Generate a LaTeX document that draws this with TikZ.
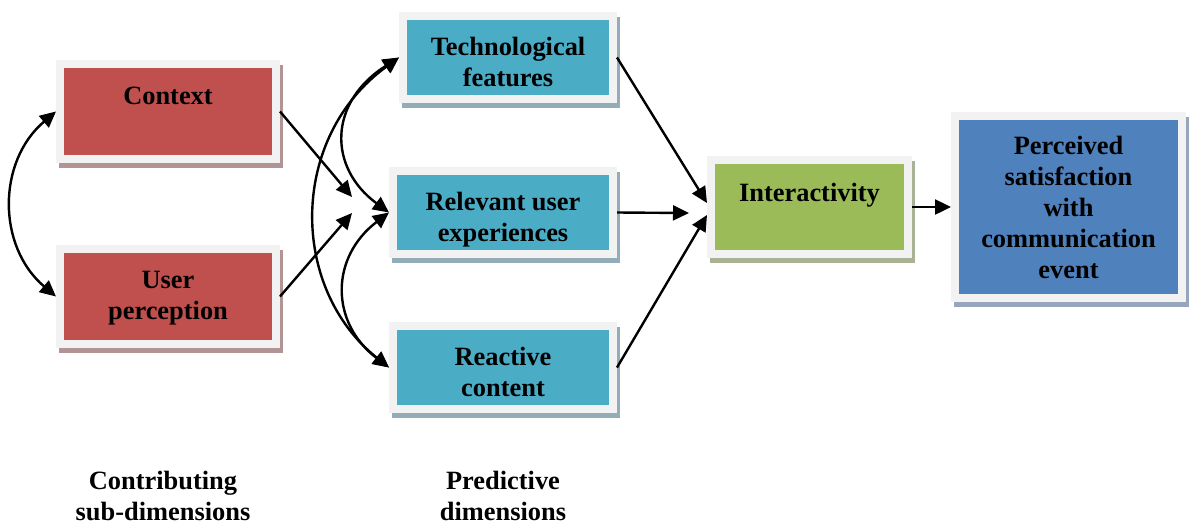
\documentclass[tikz,border=0pt]{standalone}
\usepackage{fontspec}
\setmainfont{Liberation Serif}
\usetikzlibrary{arrows.meta,shadows}

\definecolor{ctxred}{HTML}{C0504D}
\definecolor{predteal}{HTML}{4BACC6}
\definecolor{intgreen}{HTML}{9BBB59}
\definecolor{satblue}{HTML}{4F81BD}
\definecolor{framegray}{HTML}{F2F2F2}
\definecolor{redshadow}{HTML}{B39494}
\definecolor{tealshadow}{HTML}{93ADB8}
\definecolor{greenshadow}{HTML}{A9B295}
\definecolor{blueshadow}{HTML}{97A6BD}

% text sits near the top of each box, as in a word processor
\newcommand{\lift}[1]{\rule{0pt}{#1}}
\newcommand{\sink}{\rule[-3pt]{0pt}{0pt}}

\begin{document}
\begin{tikzpicture}[x=0.5pt,y=-0.5pt,>={Triangle[length=8pt,width=7.5pt]},
    box/.style 2 args={draw=framegray, fill=#1, line width=4pt, align=center,
        font=\fontsize{13.2}{15.5}\selectfont\bfseries,
        drop shadow={shadow xshift=1.5pt, shadow yshift=-2.5pt, fill=#2, draw=#2, opacity=1}},
    link/.style={line width=1.2pt},
    caption/.style={align=center, font=\fontsize{13.2}{15.5}\selectfont\bfseries}]
            \useasboundingbox (0,0) rectangle (1192,525);

            % contributing sub-dimensions
            \node[box={ctxred}{redshadow}, minimum width=108pt, minimum height=47.5pt] (ctx) at (168,111.5) {\lift{11pt}Context\\\mbox{}\sink};
            \node[box={ctxred}{redshadow}, minimum width=108pt, minimum height=47.5pt] (per) at (168,296.5) {\lift{10.5pt}User\\perception\sink};

            % predictive dimensions
            \node[box={predteal}{tealshadow}, minimum width=105pt, minimum height=41.5pt] (tech) at (508,57.5) {\lift{16pt}Technological\\features\sink};
            \node[box={predteal}{tealshadow}, minimum width=110pt, minimum height=41.5pt] (rel) at (503,212.5) {\lift{16pt}Relevant user\\experiences\sink};
            \node[box={predteal}{tealshadow}, minimum width=110pt, minimum height=41.5pt] (rea) at (503,367.5) {\lift{16pt}Reactive\\content\sink};

            % interactivity and outcome
            \node[box={intgreen}{greenshadow}, minimum width=98.5pt, minimum height=47pt] (intr) at (809.5,207) {\lift{12.5pt}Interactivity\\\mbox{}\sink};
            \node[box={satblue}{blueshadow}, minimum width=113.5pt, minimum height=91pt] (sat) at (1068.5,207) {\lift{12pt}Perceived\\satisfaction\\with\\communication\\event\sink};

            % column captions
            \node[caption] (capsub) at (163,496) {Contributing\\sub-dimensions};
            \node[caption] (cappred) at (503,496) {Predictive\\dimensions};

            % correlation between sub-dimensions
            \draw[link, <->] (ctx.west) .. controls +(-59,50) and +(-59,-50) .. (per.west);

            % sub-dimensions feed the predictive column
            \coordinate (ctxend) at (352,197);
            \coordinate (perend) at (352,213);
            \draw[link, ->] (ctx.east) -- (ctxend);
            \draw[link, ->] (per.east) -- (perend);

            % correlations between predictive dimensions
            \draw[link, <->] (rel.west) .. controls +(-61,-45) and +(-71,45) .. (tech.west);
            \draw[link, <->] (rel.west) .. controls +(-59,45) and +(-59,-45) .. (rea.west);
            \draw[link, <->] (tech.west) .. controls +(-110,80) and +(-100,-80) .. (rea.west);

            % predictive dimensions to interactivity
            \draw[link, ->] (tech.east) -- ([yshift=2pt]intr.west);
            \draw[link, ->] (rel.east) -- ([xshift=-9pt,yshift=-3pt]intr.west);
            \draw[link, ->] (rea.east) -- ([yshift=-4pt]intr.west);

            % interactivity to satisfaction
            \draw[link, ->] (intr.east) -- (sat.west);

        \end{tikzpicture}
\end{document}
